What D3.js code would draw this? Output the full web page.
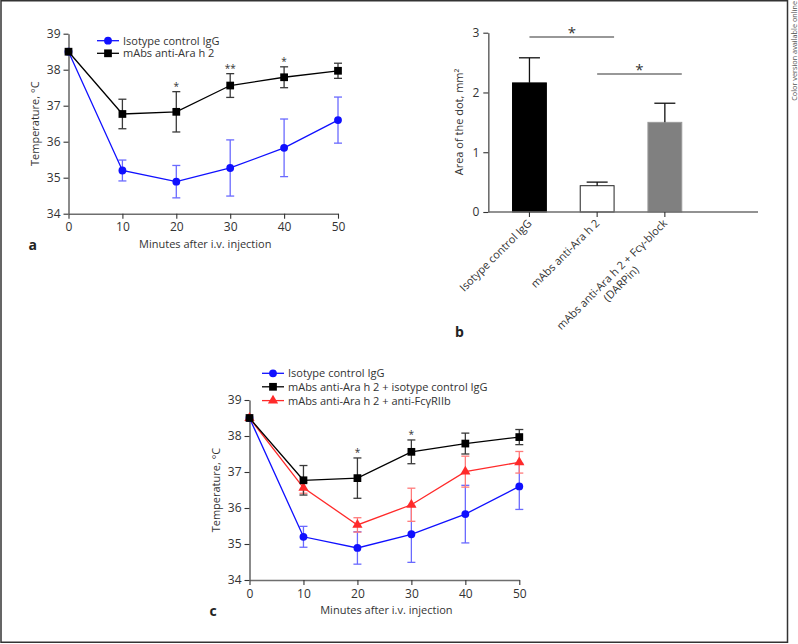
<!DOCTYPE html>
<html>
<head>
<meta charset="utf-8">
<script src="https://cdn.jsdelivr.net/npm/d3@7"></script>
<style>
  html, body { margin: 0; padding: 0; background: #fff; }
  svg { display: block; font-family: "Open Sans", sans-serif; }
</style>
</head>
<body>
<svg id="chart" width="798" height="644"></svg>
<script>
// ---------- DATA ----------
const minutes = [0, 10, 20, 30, 40, 50];
const isotypeMean = [38.5, 35.2, 34.89, 35.27, 35.83, 36.6];
const isotypeErr  = [0, 0.29, 0.45, 0.78, 0.8, 0.64];
const antiAraMean = [38.5, 36.77, 36.83, 37.56, 37.79, 37.97];
const antiAraErr  = [0, 0.41, 0.56, 0.33, 0.29, 0.21];
const antiFcMean  = [38.5, 36.56, 35.53, 36.09, 37.01, 37.27];
const antiFcErr   = [0, 0.15, 0.2, 0.46, 0.43, 0.3];
const sigA = ["", "", "*", "**", "*", ""];
const sigC = ["", "", "*", "*", "", ""];
const tempTicks = [34, 35, 36, 37, 38, 39];
const minuteTicks = [0, 10, 20, 30, 40, 50];

const barCats = ["Isotype control IgG", "mAbs anti-Ara h 2", "mAbs anti-Ara h 2 + Fcγ-block"];
const barSub  = ["", "", "(DARPin)"];
const barMeans = [2.16, 0.44, 1.5];
const barErr   = [0.42, 0.06, 0.32];
const barTicks = [0, 1, 2, 3];
const barSig = [[0, 1, "*"], [1, 2, "*"]];

const legendA = ["Isotype control IgG", "mAbs anti-Ara h 2"];
const legendC = ["Isotype control IgG", "mAbs anti-Ara h 2 + isotype control IgG", "mAbs anti-Ara h 2 + anti-FcγRIIb"];

// ---------- STYLE ----------
const BLUE = "#1010ff", BLUE_ERR = "#6a6aff";
const RED = "#ff2a2a", RED_ERR = "#ff7a7a";
const BLACK = "#000", BLACK_ERR = "#3a3a3a";
const AXIS = "#6e6e6e";
const TXT = "#333";

const svg = d3.select("#chart");

// frame
svg.append("rect").attr("x", 1).attr("y", 0.75).attr("width", 786.5).attr("height", 641.5)
  .attr("fill", "none").attr("stroke", "#333").attr("stroke-width", 1.5);
svg.append("text").attr("transform", "translate(797,1) rotate(-90)")
  .attr("text-anchor", "end").attr("font-size", 7.3).attr("fill", "#555")
  .text("Color version available online");

function styleAxis(g) {
  g.select(".domain").attr("stroke", AXIS).attr("stroke-width", 1.6);
  g.selectAll(".tick line").attr("stroke", "#333").attr("stroke-width", 1.1);
  g.selectAll(".tick text").attr("fill", TXT).attr("font-size", 12).attr("font-family", "Open Sans, sans-serif");
}

function markerPath(type, size) {
  const sym = type === "circle" ? d3.symbolCircle : type === "square" ? d3.symbolSquare : d3.symbolTriangle;
  return d3.symbol().type(sym).size(size)();
}

function linePanel(opt) {
  const x = d3.scaleLinear().domain([0, 50]).range(opt.xr);
  const y = d3.scaleLinear().domain([34, 39]).range(opt.yr);
  const g = svg.append("g");

  const gx = g.append("g").attr("transform", `translate(0,${opt.yr[0]})`)
    .call(d3.axisBottom(x).tickValues(minuteTicks).tickFormat(d3.format("d")).tickSize(5).tickSizeOuter(0).tickPadding(4));
  styleAxis(gx);
  const gy = g.append("g").attr("transform", `translate(${opt.xr[0]},0)`)
    .call(d3.axisLeft(y).tickValues(tempTicks).tickFormat(d3.format("d")).tickSize(5).tickSizeOuter(0).tickPadding(3));
  styleAxis(gy);

  g.append("text").attr("x", (opt.xr[0] + opt.xr[1]) / 2 + 2).attr("y", opt.yr[0] + 34)
    .attr("text-anchor", "middle").attr("font-size", 11).attr("fill", TXT).text("Minutes after i.v. injection");
  g.append("text").attr("transform", `translate(${opt.xr[0] - 30},${(opt.yr[0] + opt.yr[1]) / 2}) rotate(-90)`)
    .attr("text-anchor", "middle").attr("font-size", 11).attr("fill", TXT).text("Temperature, °C");
  g.append("text").attr("x", opt.xr[0] - 40).attr("y", opt.yr[0] + 36)
    .attr("font-size", 14).attr("font-weight", "bold").attr("fill", "#222").text(opt.label);

  opt.series.forEach(s => {
    const pts = minutes.map((m, i) => ({ m, v: s.mean[i], e: s.err[i] }));
    const eg = g.append("g");
    pts.filter(p => p.e > 0).forEach(p => {
      const cx = x(p.m), yt = y(p.v + p.e), yb = y(p.v - p.e);
      eg.append("line").attr("x1", cx).attr("x2", cx).attr("y1", yt).attr("y2", yb)
        .attr("stroke", s.errColor).attr("stroke-width", 1.3);
      [yt, yb].forEach(yy => eg.append("line").attr("x1", cx - 4).attr("x2", cx + 4).attr("y1", yy).attr("y2", yy)
        .attr("stroke", s.errColor).attr("stroke-width", 1.3));
    });
  });
  opt.series.forEach(s => {
    const pts = minutes.map((m, i) => ({ m, v: s.mean[i] }));
    g.append("path").datum(pts)
      .attr("d", d3.line().x(d => x(d.m)).y(d => y(d.v)))
      .attr("fill", "none").attr("stroke", s.color).attr("stroke-width", 1.3);
  });
  opt.series.forEach(s => {
    minutes.forEach((m, i) => {
      g.append("path").attr("d", markerPath(s.marker, s.msize))
        .attr("transform", `translate(${x(m)},${y(s.mean[i])})`).attr("fill", s.color);
    });
  });

  // significance stars above the anti-Ara h 2 series
  opt.sig.forEach((t, i) => {
    if (!t) return;
    g.append("text").attr("x", x(minutes[i])).attr("y", y(antiAraMean[i] + antiAraErr[i]) - 1.5)
      .attr("text-anchor", "middle").attr("font-size", 10).attr("fill", TXT).text(t);
  });

  // legend
  opt.legend.forEach((t, i) => {
    const s = opt.series[opt.legendOrder[i]];
    const ly = opt.legY[i];
    g.append("line").attr("x1", opt.legX).attr("x2", opt.legX + 22).attr("y1", ly).attr("y2", ly)
      .attr("stroke", s.color).attr("stroke-width", 1.3);
    g.append("path").attr("d", markerPath(s.marker, s.msize)).attr("transform", `translate(${opt.legX + 11},${ly})`)
      .attr("fill", s.color);
    g.append("text").attr("x", opt.legX + 26).attr("y", ly + 4).attr("font-size", 11).attr("fill", TXT).text(t);
  });
}

const sBlue  = { mean: isotypeMean, err: isotypeErr, color: BLUE, errColor: BLUE_ERR, marker: "circle", msize: 48 };
const sBlack = { mean: antiAraMean, err: antiAraErr, color: BLACK, errColor: BLACK_ERR, marker: "square", msize: 60 };
const sRed   = { mean: antiFcMean, err: antiFcErr, color: RED, errColor: RED_ERR, marker: "triangle", msize: 45 };

// Panel a
linePanel({
  xr: [68.5, 338], yr: [213.7, 33.7], label: "a",
  series: [sBlue, sBlack], legend: legendA, legendOrder: [0, 1],
  legX: 97, legY: [40.7, 53.3], sig: sigA
});

// Panel c
linePanel({
  xr: [249.5, 519.3], yr: [580, 400], label: "c",
  series: [sBlue, sRed, sBlack], legend: legendC, legendOrder: [0, 2, 1],
  legX: 262, legY: [373.3, 386.8, 400.6], sig: sigC
});

// Panel b (bars)
(function () {
  const x = d3.scaleBand().domain(barCats).range([495.6, 698.7]).paddingInner(0.5).paddingOuter(0.25);
  const y = d3.scaleLinear().domain([0, 3]).range([212, 32.7]);
  const g = svg.append("g");

  // bars
  barCats.forEach((c, i) => {
    const fill = i === 0 ? "#000" : i === 1 ? "#fff" : "#808080";
    const stroke = i === 0 ? "#000" : i === 1 ? "#222" : "#9a9a9a";
    g.append("rect").attr("x", x(c)).attr("y", y(barMeans[i])).attr("width", x.bandwidth())
      .attr("height", y(0) - y(barMeans[i])).attr("fill", fill).attr("stroke", stroke).attr("stroke-width", 1);
    const cx = x(c) + x.bandwidth() / 2;
    g.append("line").attr("x1", cx).attr("x2", cx).attr("y1", y(barMeans[i])).attr("y2", y(barMeans[i] + barErr[i]))
      .attr("stroke", "#111").attr("stroke-width", 1.3);
    g.append("line").attr("x1", cx - 10.5).attr("x2", cx + 10.5).attr("y1", y(barMeans[i] + barErr[i])).attr("y2", y(barMeans[i] + barErr[i]))
      .attr("stroke", "#111").attr("stroke-width", 1.3);
  });

  // axes
  const gy = g.append("g").attr("transform", `translate(488.3,0)`)
    .call(d3.axisLeft(y).tickValues(barTicks).tickFormat(d3.format("d")).tickSize(5).tickSizeOuter(0).tickPadding(4));
  styleAxis(gy);
  g.append("line").attr("x1", 488.3).attr("x2", 758).attr("y1", y(0)).attr("y2", y(0))
    .attr("stroke", AXIS).attr("stroke-width", 1.6);
  const gx = g.append("g").attr("transform", `translate(0,${y(0)})`)
    .call(d3.axisBottom(x).tickSize(5).tickSizeOuter(0).tickFormat(""));
  gx.select(".domain").remove();
  gx.selectAll(".tick line").attr("stroke", "#333").attr("stroke-width", 1.1);

  // rotated category labels
  barCats.forEach((c, i) => {
    const cx = x(c) + x.bandwidth() / 2;
    const tg = g.append("g").attr("transform", `translate(${cx + 3},${y(0) + 12}) rotate(-45)`);
    const t1 = tg.append("text").attr("text-anchor", "end").attr("font-size", 11).attr("fill", TXT).text(c);
    if (barSub[i]) {
      const w = t1.node().getComputedTextLength();
      tg.append("text").attr("x", -w / 2).attr("y", 13).attr("text-anchor", "middle")
        .attr("font-size", 11).attr("fill", TXT).text(barSub[i]);
    }
  });

  g.append("text").attr("transform", `translate(463,122) rotate(-90)`)
    .attr("text-anchor", "middle").attr("font-size", 11).attr("fill", TXT).text("Area of the dot, mm²");

  // significance brackets
  const sigY = [37, 74];
  barSig.forEach((s, k) => {
    const l = x(barCats[s[0]]) + x.bandwidth() / 2;
    const r = x(barCats[s[1]]) + x.bandwidth();
    g.append("line").attr("x1", l).attr("x2", r).attr("y1", sigY[k]).attr("y2", sigY[k])
      .attr("stroke", "#333").attr("stroke-width", 1.1);
    g.append("text").attr("x", (l + r) / 2).attr("y", sigY[k] + 1).attr("text-anchor", "middle")
      .attr("font-size", 15).attr("fill", TXT).text(s[2]);
  });

  g.append("text").attr("x", 455).attr("y", 337).attr("font-size", 14).attr("font-weight", "bold")
    .attr("fill", "#222").text("b");
})();
</script>
</body>
</html>
